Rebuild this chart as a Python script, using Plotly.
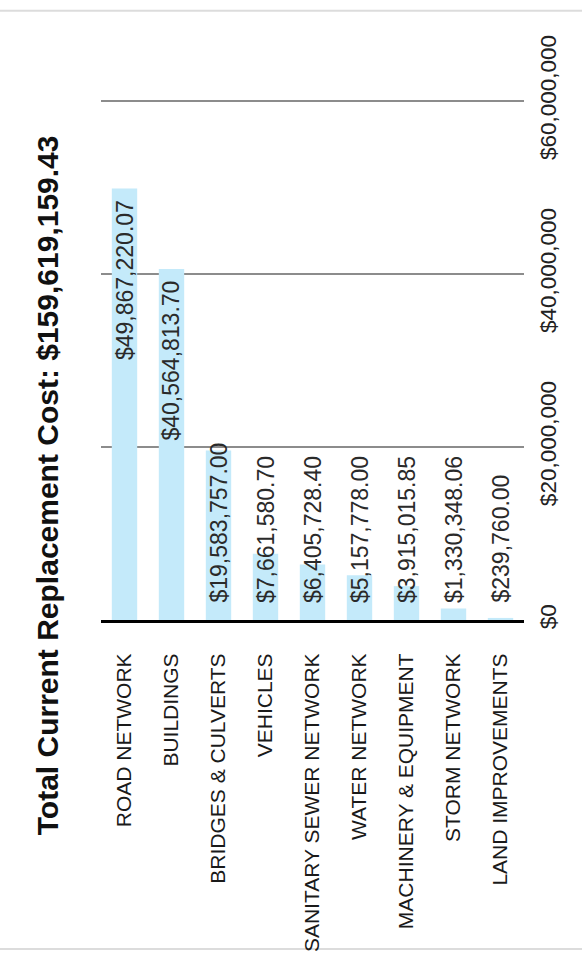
import plotly.graph_objects as go

categories = ["ROAD NETWORK", "BUILDINGS", "BRIDGES & CULVERTS", "VEHICLES",
              "SANITARY SEWER NETWORK", "WATER NETWORK", "MACHINERY & EQUIPMENT",
              "STORM NETWORK", "LAND IMPROVEMENTS"]
values = [49867220.07, 40564813.70, 19583757.00, 7661580.70, 6405728.40,
          5157778.00, 3915015.85, 1330348.06, 239760.00]
title_text = "Total Current Replacement Cost: $159,619,159.43"
tick_values = [0, 20000000, 40000000, 60000000]
tick_labels = ["$0", "$20,000,000", "$40,000,000", "$60,000,000"]

W, H = 582, 964
ML, MR, MT, MB = 101, 58, 84, 339
plot_h = H - MT - MB
px_per_unit = 524 / 60e6
y_top = plot_h / px_per_unit

FONT = "Liberation Sans, Arial, Helvetica, sans-serif"
BAR_COLOR = "#c4eafa"

fig = go.Figure()
fig.add_trace(go.Bar(
    x=categories, y=values, marker=dict(color=BAR_COLOR, line=dict(width=0)),
    hoverinfo="skip",
))

# value labels (rotated, reading bottom-to-top)
for c, v in zip(categories, values):
    fits = v * px_per_unit > 175
    fig.add_annotation(
        x=c, y=v if fits else 0, xref="x", yref="y",
        text=f"${v:,.2f}", textangle=-90, showarrow=False,
        xanchor="center", yanchor="top" if fits else "bottom",
        yshift=-10 if fits else 15,
        font=dict(family=FONT, size=23, color="#2a2a2a"),
    )

# rotated title
fig.add_annotation(
    x=(47 - ML) / (W - ML - MR), y=(H - MB - 489) / plot_h,
    xref="paper", yref="paper", text=f"<b>{title_text}</b>", textangle=-90,
    showarrow=False, xanchor="center", yanchor="middle",
    font=dict(family=FONT, size=30, color="#111111"),
)

# faint scanned page edges
for yy in (10, 957):
    yp = (H - MB - yy) / plot_h
    fig.add_shape(type="line", xref="paper", yref="paper", x0=-1, x1=2, y0=yp, y1=yp,
                  line=dict(color="#dcdcdc", width=2), layer="below")

fig.update_layout(
    width=W, height=H, margin=dict(l=ML, r=MR, t=MT, b=MB),
    paper_bgcolor="white", plot_bgcolor="white", showlegend=False,
    bargap=0.46,
    font=dict(family=FONT, color="#222222"),
    xaxis=dict(
        tickangle=-90, tickfont=dict(family=FONT, size=21, color="#1a1a1a"),
        showline=True, linecolor="#000000", linewidth=3, showgrid=False,
        ticks="outside", ticklen=22, tickcolor="rgba(0,0,0,0)",
        fixedrange=True,
    ),
    yaxis=dict(
        side="right", range=[0, y_top], tickvals=tick_values, ticktext=tick_labels,
        tickangle=-90, tickfont=dict(family=FONT, size=22.5, color="#222222"),
        showgrid=True, gridcolor="#8c8c8c", gridwidth=1.5, zeroline=False,
        showline=False, ticks="outside", ticklen=4, tickcolor="rgba(0,0,0,0)",
        fixedrange=True,
    ),
)

fig.write_html("out.html")
